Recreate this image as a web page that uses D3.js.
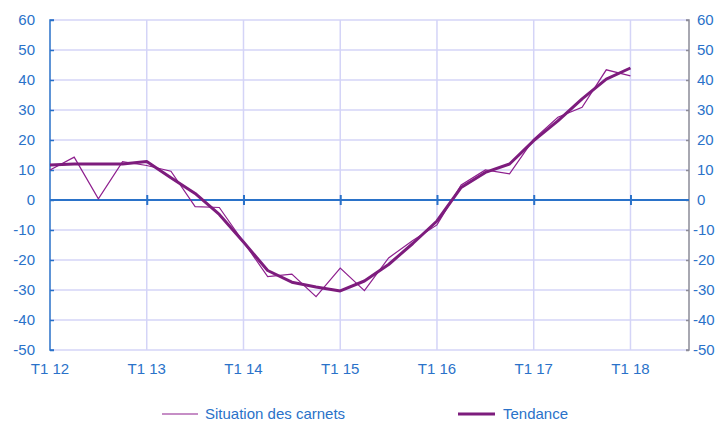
<!DOCTYPE html>
<html>
<head>
<meta charset="utf-8">
<script src="https://cdn.jsdelivr.net/npm/d3@7"></script>
<style>
  body { margin: 0; background: #fff; }
  text { font-family: "Liberation Sans", Arial, sans-serif; }
</style>
</head>
<body>
<div id="chart"></div>
<script>
// quarterly values, T1 12 .. T1 18
const quarters = d3.range(25);
const carnets = [10, 14.3, 0.4, 12.8, 11.5, 9.6, -2.2, -2.5, -14, -25.5, -24.7, -32.2, -22.7,
  -30.2, -19.3, -13.5, -8.3, 5, 10, 8.7, 20.3, 27.6, 30.9, 43.4, 41.4];
const tendance = [11.7, 12, 12, 12, 12.8, 7.4, 2.2, -4.8, -14, -23.5, -27.4, -29, -30.3,
  -27, -21.5, -14.5, -7, 4.2, 9.2, 12, 19.8, 26.4, 33.7, 40.3, 44];
const yearTicks = [0, 4, 8, 12, 16, 20, 24];
const yearLabels = ["T1 12", "T1 13", "T1 14", "T1 15", "T1 16", "T1 17", "T1 18"];
const yTicks = d3.range(-50, 61, 10);

const width = 717, height = 423;
const plotLeft = 50, plotRight = 689, plotTop = 20, plotBottom = 350;
const blue = "#2a72c9";
const grid = "#d4d4f7";

const svg = d3.select("#chart").append("svg")
  .attr("width", width)
  .attr("height", height);

const x = d3.scaleLinear().domain([0, 26.42]).range([plotLeft, plotRight]);
const y = d3.scaleLinear().domain([-50, 60]).range([plotBottom, plotTop]);

// horizontal grid
svg.append("g")
  .selectAll("line")
  .data(yTicks)
  .join("line")
  .attr("x1", plotLeft).attr("x2", plotRight)
  .attr("y1", d => y(d)).attr("y2", d => y(d))
  .attr("stroke", grid)
  .attr("stroke-width", 1.5);

// vertical grid
svg.append("g")
  .selectAll("line")
  .data(yearTicks.slice(1))
  .join("line")
  .attr("x1", d => x(d)).attr("x2", d => x(d))
  .attr("y1", plotTop).attr("y2", plotBottom)
  .attr("stroke", grid)
  .attr("stroke-width", 1.5);

// left axis
const leftAxis = svg.append("g")
  .attr("transform", `translate(${plotLeft},0)`)
  .call(d3.axisRight(y).tickValues(yTicks).tickSize(4).tickFormat(""));
leftAxis.select(".domain").attr("stroke", blue).attr("stroke-width", 1.5).attr("d", `M4,${plotTop}H0V${plotBottom}H4`);
leftAxis.selectAll(".tick line").attr("stroke", blue).attr("stroke-width", 1.5);

svg.append("g")
  .selectAll("text")
  .data(yTicks)
  .join("text")
  .attr("x", 35)
  .attr("y", d => y(d))
  .attr("dy", "0.36em")
  .attr("text-anchor", "end")
  .attr("font-size", 15)
  .attr("fill", blue)
  .text(d => d);

// right axis
const rightAxis = svg.append("g")
  .attr("transform", `translate(${plotRight},0)`)
  .call(d3.axisLeft(y).tickValues(yTicks).tickSize(3).tickFormat(""));
rightAxis.select(".domain").attr("stroke", "#8c8c98").attr("stroke-width", 1.5).attr("d", `M-3,${plotTop}H0V${plotBottom}H-3`);
rightAxis.selectAll(".tick line").attr("stroke", "#8c8c98").attr("stroke-width", 1.5);

svg.append("g")
  .selectAll("text")
  .data(yTicks)
  .join("text")
  .attr("x", d => d < 0 ? 693 : 697)
  .attr("y", d => y(d))
  .attr("dy", "0.36em")
  .attr("text-anchor", "start")
  .attr("font-size", 15)
  .attr("fill", blue)
  .text(d => d);

// zero line with year ticks
const xAxis = svg.append("g")
  .attr("transform", `translate(0,${y(0)})`)
  .call(d3.axisBottom(x).tickValues(yearTicks.slice(1)).tickSizeInner(4).tickSizeOuter(0).tickFormat(""));
xAxis.select(".domain").attr("stroke", blue).attr("stroke-width", 2).attr("d", `M${plotLeft},0H${plotRight}`);
xAxis.selectAll(".tick line").attr("stroke", blue).attr("stroke-width", 2).attr("y1", -5).attr("y2", 5);

// x labels
svg.append("g")
  .selectAll("text")
  .data(yearTicks)
  .join("text")
  .attr("x", d => x(d))
  .attr("y", 374)
  .attr("text-anchor", "middle")
  .attr("font-size", 15)
  .attr("fill", blue)
  .text((d, i) => yearLabels[i]);

const line = d3.line()
  .x((d, i) => x(quarters[i]))
  .y(d => y(d));

svg.append("path")
  .datum(carnets)
  .attr("fill", "none")
  .attr("stroke", "#8e1f8e")
  .attr("stroke-width", 1.2)
  .attr("d", line);

svg.append("path")
  .datum(tendance)
  .attr("fill", "none")
  .attr("stroke", "#7d1c7d")
  .attr("stroke-width", 3)
  .attr("stroke-linejoin", "round")
  .attr("d", line);

// legend
const legend = [
  { name: "Situation des carnets", x1: 162, x2: 198, tx: 205, color: "#8e1f8e", w: 1.2 },
  { name: "Tendance", x1: 458, x2: 495, tx: 503, color: "#7d1c7d", w: 3 }
];
const lg = svg.append("g").selectAll("g").data(legend).join("g");
lg.append("line")
  .attr("x1", d => d.x1).attr("x2", d => d.x2)
  .attr("y1", 414).attr("y2", 414)
  .attr("stroke", d => d.color)
  .attr("stroke-width", d => d.w);
lg.append("text")
  .attr("x", d => d.tx)
  .attr("y", 414)
  .attr("dy", "0.36em")
  .attr("font-size", 15)
  .attr("fill", blue)
  .text(d => d.name);
</script>
</body>
</html>
